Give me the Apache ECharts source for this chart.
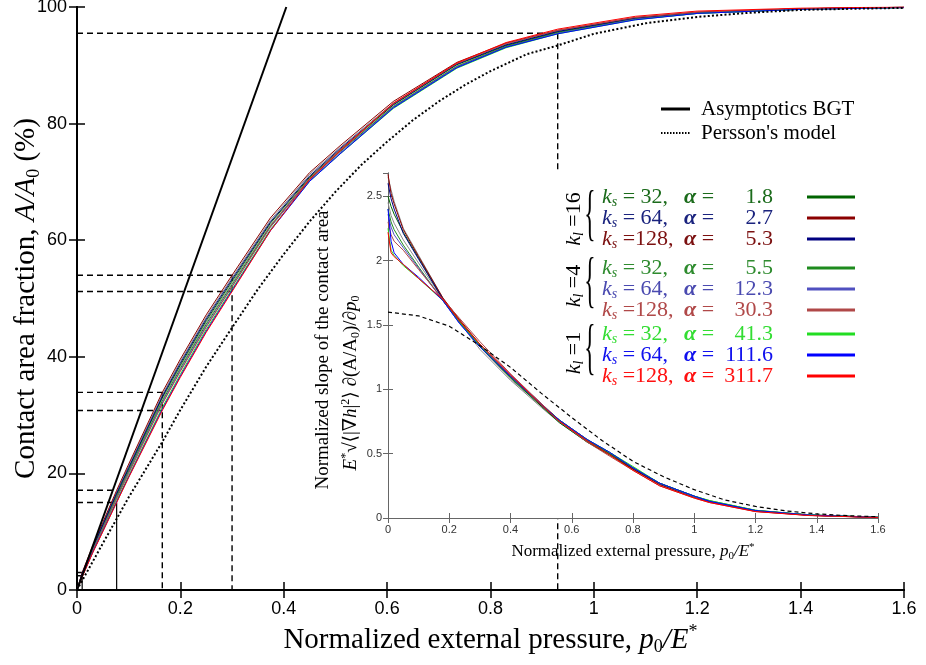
<!DOCTYPE html>
<html><head><meta charset="utf-8">
<script src="https://cdn.jsdelivr.net/npm/echarts/dist/echarts.min.js"></script>
<style>html,body{margin:0;padding:0;background:#fff}#c{width:926px;height:665px}</style>
</head><body><div id="c"></div>
<script>
// ---------- main plot data (x = p0/E*, y = A/A0 in %) ----------
const mainX = [0, 0.01, 0.03, 0.05, 0.0767, 0.1, 0.165, 0.2, 0.25, 0.3, 0.374, 0.45, 0.509, 0.612, 0.735, 0.83, 0.93, 1.08, 1.2, 1.4, 1.6];
const main_kl16_ks32  = [0,2.7,7.1,11.1,16.4,20.8,33.0,38.6,46.2,53.0,62.9,70.8,75.5,83.2,90.1,93.4,95.7,98.0,99.0,99.7,99.95];
const main_kl16_ks64  = [0,3.0,7.5,11.6,17.1,21.6,33.9,39.6,47.2,54.0,63.8,71.6,76.2,83.8,90.5,93.8,96.0,98.2,99.1,99.7,99.95];
const main_kl16_ks128 = [0,2.8,7.2,11.2,16.6,21.0,33.2,38.9,46.5,53.3,63.1,71.0,75.7,83.3,90.2,93.5,95.8,98.1,99.0,99.7,99.95];
const main_kl4_ks32   = [0,2.5,6.8,10.7,16.0,20.4,32.4,38.0,45.6,52.4,62.4,70.5,75.2,82.9,89.8,93.2,95.6,97.9,98.9,99.6,99.9];
const main_kl4_ks64   = [0,2.5,6.7,10.6,15.8,20.2,32.1,37.7,45.3,52.1,62.2,70.3,75.0,82.8,89.7,93.1,95.5,97.9,98.9,99.6,99.9];
const main_kl4_ks128  = [0,2.4,6.6,10.5,15.7,20.0,31.9,37.5,45.1,52.0,62.3,70.6,75.5,83.4,90.3,93.7,96.0,98.2,99.1,99.7,99.95];
const main_kl1_ks32   = [0,2.3,6.4,10.2,15.3,19.6,31.3,37.0,44.7,51.6,61.8,70.1,74.8,82.6,89.5,93.0,95.4,97.8,98.9,99.6,99.9];
const main_kl1_ks64   = [0,2.3,6.4,10.1,15.1,19.4,31.0,36.7,44.4,51.4,61.6,70.1,74.8,82.7,89.6,93.1,95.4,97.8,98.9,99.6,99.9];
const main_kl1_ks128  = [0,2.2,6.3,10.0,15.0,19.3,30.8,36.5,44.2,51.2,61.6,70.4,75.3,83.5,90.4,93.9,96.2,98.4,99.3,99.8,100];
const main_gray1      = [0,2.9,7.3,11.4,16.8,21.3,33.5,39.2,46.8,53.6,63.4,71.3,75.9,83.5,90.3,93.6,95.9,98.1,99.1,99.7,99.95];
const main_gray2      = [0,2.6,6.9,10.9,16.2,20.6,32.7,38.3,45.9,52.7,62.6,70.6,75.3,83.0,89.9,93.3,95.7,98.0,99.0,99.6,99.9];

const bgtX = [0, 0.405];
const bgtY = [0, 100];

const perssonX = [0,0.05,0.0767,0.1,0.165,0.2,0.25,0.3,0.35,0.4,0.45,0.5,0.55,0.6,0.65,0.7,0.75,0.8,0.87,0.93,1.0,1.1,1.2,1.3,1.4,1.5,1.6];
const perssonY = [0,8.0,12.2,15.9,25.4,30.9,38.3,45.0,51.6,57.6,63.2,68.3,72.9,76.9,80.6,83.8,86.6,89.0,91.9,93.4,95.4,97.2,98.3,99.0,99.5,99.7,99.85];

// guide lines: pressure value, upper and lower contact fraction
const guideX  = [0.01, 0.0767, 0.165, 0.3, 0.93];
const guideHi = [3.0, 17.1, 33.9, 54.0, 95.5];
const guideLo = [2.45, 15.0, 30.8, 51.2, 95.5];

// ---------- inset data (normalized slope) ----------
const insetX = [0, 0.01, 0.02, 0.05, 0.1, 0.179, 0.234, 0.3, 0.4, 0.5, 0.56, 0.65, 0.724, 0.8, 0.887, 1.0, 1.05, 1.2, 1.377, 1.6];
const ins_kl16_ks32  = [2.50,2.42,2.36,2.22,2.02,1.70,1.53,1.34,1.09,0.87,0.74,0.59,0.49,0.38,0.27,0.165,0.13,0.058,0.022,0.005];
const ins_kl16_ks64  = [2.67,2.52,2.44,2.24,2.03,1.71,1.54,1.35,1.11,0.89,0.76,0.61,0.50,0.38,0.26,0.16,0.125,0.052,0.020,0.004];
const ins_kl16_ks128 = [2.60,2.48,2.40,2.21,2.01,1.70,1.52,1.33,1.10,0.88,0.75,0.60,0.50,0.39,0.27,0.17,0.13,0.056,0.022,0.005];
const ins_kl4_ks32   = [2.40,2.30,2.24,2.12,1.95,1.69,1.52,1.33,1.09,0.88,0.76,0.60,0.50,0.39,0.27,0.17,0.135,0.060,0.024,0.006];
const ins_kl4_ks64   = [2.36,2.26,2.20,2.10,1.94,1.69,1.51,1.34,1.11,0.89,0.75,0.61,0.51,0.39,0.27,0.165,0.13,0.057,0.023,0.005];
const ins_kl4_ks128  = [2.30,2.20,2.15,2.08,1.93,1.70,1.55,1.37,1.12,0.89,0.75,0.59,0.48,0.37,0.25,0.155,0.12,0.050,0.020,0.004];
const ins_kl1_ks32   = [2.25,2.08,2.04,1.96,1.86,1.69,1.52,1.34,1.10,0.88,0.76,0.61,0.51,0.40,0.27,0.17,0.135,0.060,0.024,0.006];
const ins_kl1_ks64   = [2.40,2.15,2.06,1.97,1.87,1.69,1.51,1.33,1.10,0.88,0.76,0.61,0.51,0.39,0.27,0.17,0.13,0.058,0.023,0.005];
const ins_kl1_ks128  = [2.22,2.06,2.03,1.97,1.86,1.70,1.53,1.35,1.11,0.88,0.75,0.60,0.49,0.37,0.25,0.155,0.12,0.050,0.019,0.004];
const ins_gray1      = [2.65,2.55,2.46,2.25,2.04,1.71,1.52,1.31,1.07,0.86,0.74,0.59,0.49,0.38,0.26,0.16,0.125,0.055,0.021,0.005];
const ins_gray2      = [2.45,2.35,2.29,2.16,1.98,1.70,1.53,1.33,1.08,0.87,0.75,0.60,0.50,0.38,0.26,0.16,0.128,0.056,0.022,0.005];

const insPerssonX = [0,0.1,0.2,0.3,0.4,0.5,0.6,0.7,0.8,0.9,1.0,1.1,1.2,1.3,1.4,1.5,1.6];
const insPerssonY = [1.60,1.57,1.49,1.34,1.17,0.97,0.78,0.60,0.44,0.32,0.22,0.14,0.09,0.055,0.032,0.018,0.01];

// legend content
const klValues = ['16', '4', '1'];
const ksValues = ['32', '64', '128'];
const alphaValues = [['1.8','2.7','5.3'], ['5.5','12.3','30.3'], ['41.3','111.6','311.7']];

// ---------- styling ----------
const lineColors = [['#006400','#8b0000','#000080'], ['#1e8b1e','#5050c0','#b04848'], ['#22dd22','#0000ff','#ff0000']];
const textColors = [['#1b6b1b','#1a237e','#7b1010'], ['#2e8b2e','#4a4ab0','#b04848'], ['#33dd33','#1010ee','#ff1010']];
const mainSets = [[main_kl16_ks32, main_kl16_ks64, main_kl16_ks128], [main_kl4_ks32, main_kl4_ks64, main_kl4_ks128], [main_kl1_ks32, main_kl1_ks64, main_kl1_ks128]];
const insSets = [[ins_kl16_ks32, ins_kl16_ks64, ins_kl16_ks128], [ins_kl4_ks32, ins_kl4_ks64, ins_kl4_ks128], [ins_kl1_ks32, ins_kl1_ks64, ins_kl1_ks128]];

const pairs = (xs, ys) => xs.map((x, i) => [x, ys[i]]);
const SERIF = "'Liberation Serif','DejaVu Serif',serif";
const SANS = "'Liberation Sans',Arial,sans-serif";

const series = [];
[main_gray1, main_gray2].forEach(d => series.push({type:'line', xAxisIndex:0, yAxisIndex:0, data:pairs(mainX,d), symbol:'none', z:2, lineStyle:{color:'#8a8a8a', width:1}}));
[ins_gray1, ins_gray2].forEach(d => series.push({type:'line', xAxisIndex:2, yAxisIndex:2, data:pairs(insetX,d), symbol:'none', z:12, lineStyle:{color:'#8a8a8a', width:1}}));
for (let g = 0; g < 3; g++) for (let r = 0; r < 3; r++) {
  series.push({type:'line', xAxisIndex:0, yAxisIndex:0, data:pairs(mainX, mainSets[g][r]), symbol:'none', z:3, lineStyle:{color:lineColors[g][r], width:1}});
  series.push({type:'line', xAxisIndex:2, yAxisIndex:2, data:pairs(insetX, insSets[g][r]), symbol:'none', z:13, lineStyle:{color:lineColors[g][r], width:1}});
}
series.push({type:'line', xAxisIndex:0, yAxisIndex:0, data:pairs(bgtX,bgtY), symbol:'none', z:4, lineStyle:{color:'#000', width:2}});
series.push({type:'line', xAxisIndex:0, yAxisIndex:0, data:pairs(perssonX,perssonY), symbol:'none', z:4, lineStyle:{color:'#000', width:2, type:[2,2.2]}});
series.push({type:'line', xAxisIndex:2, yAxisIndex:2, data:pairs(insPerssonX,insPerssonY), symbol:'none', z:14, lineStyle:{color:'#000', width:1.2, type:[4,3]}});
guideX.forEach((gx, i) => {
  const dashed = {color:'#000', width:1.4, type:[6,4]};
  series.push({type:'line', xAxisIndex:0, yAxisIndex:0, data:[[0,guideHi[i]],[gx,guideHi[i]]], symbol:'none', z:1, lineStyle:dashed});
  if (guideLo[i] !== guideHi[i]) series.push({type:'line', xAxisIndex:0, yAxisIndex:0, data:[[0,guideLo[i]],[gx,guideLo[i]]], symbol:'none', z:1, lineStyle:dashed});
  const solidV = i < 2;
  series.push({type:'line', xAxisIndex:0, yAxisIndex:0, data:[[gx, solidV ? guideLo[i] : guideHi[i]],[gx,0]], symbol:'none', z:1,
    lineStyle: solidV ? {color:'#000', width:1.2} : dashed});
});

const richBase = (fs) => ({
  i:{fontFamily:SERIF, fontSize:fs, fontStyle:'italic', color:'#000'},
  subn:{fontFamily:SERIF, fontSize:Math.round(fs*0.62), color:'#000', padding:[Math.round(fs*0.5),0,0,0]},
  sup:{fontFamily:SERIF, fontSize:Math.round(fs*0.62), color:'#000', padding:[0,0,Math.round(fs*0.55),0]}
});

const mainAxisLine = {lineStyle:{color:'#000', width:2}};
const mainTick = {inside:true, length:8, lineStyle:{color:'#000', width:1.5}};
const insAxisLine = {lineStyle:{color:'#666', width:1}};
const insTick = {inside:true, length:5, lineStyle:{color:'#666', width:1}};
const insLabel = {fontSize:11, fontFamily:SANS, color:'#333', margin:6};

const xAxis = [
  {gridIndex:0, type:'value', min:0, max:1.6, interval:0.2, position:'bottom', axisLine:mainAxisLine, axisTick:mainTick, splitLine:{show:false},
   axisLabel:{fontSize:18, fontFamily:SANS, color:'#000', margin:10},
   name:'Normalized external pressure, {i|p}{subn|0}{i|/E}{sup|*}', nameLocation:'middle', nameGap:33, nameMoveOverlap:false,
   nameTextStyle:{fontFamily:SERIF, fontSize:29, color:'#000', rich:richBase(29)}},
  {gridIndex:0, type:'value', min:0, max:1.6, interval:0.2, position:'top', axisLine:mainAxisLine, axisTick:mainTick, axisLabel:{show:false}, splitLine:{show:false}},
  {gridIndex:1, type:'value', min:0, max:1.6, interval:0.2, position:'bottom', z:11, axisLine:insAxisLine, axisTick:insTick, splitLine:{show:false},
   axisLabel:insLabel,
   name:'Normalized external pressure, {i|p}{subn|0}{i|/E}{sup|*}', nameLocation:'middle', nameGap:24, nameMoveOverlap:false,
   nameTextStyle:{fontFamily:SERIF, fontSize:17, color:'#000', rich:richBase(17)}},
  {gridIndex:1, type:'value', min:0, max:1.6, interval:0.2, position:'top', z:11, axisLine:insAxisLine, axisTick:insTick, axisLabel:{show:false}, splitLine:{show:false}}
];
const yAxis = [
  {gridIndex:0, type:'value', min:0, max:100, interval:20, position:'left', axisLine:mainAxisLine, axisTick:mainTick, splitLine:{show:false},
   axisLabel:{fontSize:18, fontFamily:SANS, color:'#000', margin:10},
   name:'Contact area fraction, {i|A/A}{subn|0} (%)', nameLocation:'middle', nameGap:34, nameMoveOverlap:false,
   nameTextStyle:{fontFamily:SERIF, fontSize:29, color:'#000', rich:richBase(29)}},
  {gridIndex:0, type:'value', min:0, max:100, interval:20, position:'right', axisLine:mainAxisLine, axisTick:mainTick, axisLabel:{show:false}, splitLine:{show:false}},
  {gridIndex:1, type:'value', min:0, max:2.68, interval:0.5, position:'left', z:11, axisLine:insAxisLine, axisTick:insTick, splitLine:{show:false},
   axisLabel:Object.assign({showMaxLabel:false}, insLabel)},
  {gridIndex:1, type:'value', min:0, max:2.68, interval:0.5, position:'right', z:11, axisLine:insAxisLine, axisTick:insTick, axisLabel:{show:false}, splitLine:{show:false}}
];

const graphic = [];
const Z = 100;
graphic.push({type:'line', z:Z, shape:{x1:661, y1:109, x2:690, y2:109}, style:{stroke:'#000', lineWidth:3}});
graphic.push({type:'line', z:Z, shape:{x1:661, y1:133, x2:690, y2:133}, style:{stroke:'#000', lineWidth:2, lineDash:[1.5,1.5]}});
graphic.push({type:'text', z:Z, x:701, y:109, style:{text:'Asymptotics BGT', font:"21px "+SERIF, fill:'#000', textVerticalAlign:'middle'}});
graphic.push({type:'text', z:Z, x:701, y:133, style:{text:"Persson's model", font:"21px "+SERIF, fill:'#000', textVerticalAlign:'middle'}});

const groupTop = [197, 268, 334];
const rowStep = 21;
const klCenterY = [219, 286, 353];
for (let g = 0; g < 3; g++) {
  for (let r = 0; r < 3; r++) {
    const y = groupTop[g] + r*rowStep;
    const col = textColors[g][r];
    const ksTxt = ksValues[r] === '128' ? ' =128,' : ' = ' + ksValues[r] + ',';
    graphic.push({type:'text', z:Z, x:602, y:y, style:{
      text:'{k|k}{s|s}{n|' + ksTxt + '}', textVerticalAlign:'middle', fill:col,
      rich:{k:{fontFamily:SERIF, fontSize:22, fontStyle:'italic', fill:col, color:col},
            s:{fontFamily:SERIF, fontSize:14, fontStyle:'italic', fill:col, color:col, padding:[10,0,0,0]},
            n:{fontFamily:SERIF, fontSize:22, fill:col, color:col}}}});
    graphic.push({type:'text', z:Z, x:684, y:y, style:{text:'{a|α}{n| =}', fill:col, textVerticalAlign:'middle',
      rich:{a:{fontFamily:SERIF, fontSize:22, fontStyle:'italic', fontWeight:'bold', fill:col, color:col}, n:{fontFamily:SERIF, fontSize:22, fill:col, color:col}}}});
    graphic.push({type:'text', z:Z, x:773, y:y, style:{text:alphaValues[g][r], font:"22px "+SERIF, fill:col, textAlign:'right', textVerticalAlign:'middle'}});
    graphic.push({type:'line', z:Z, shape:{x1:807, y1:y, x2:855, y2:y}, style:{stroke:lineColors[g][r], lineWidth:3}});
  }
  graphic.push({type:'text', z:Z, x:590, y:klCenterY[g]-2, scaleX:0.38, style:{text:'{', font:"62px "+SERIF, fill:'#000', textAlign:'center', textVerticalAlign:'middle'}});
  graphic.push({type:'text', z:Z, x:574, y:klCenterY[g], rotation:Math.PI/2, style:{
    text:'{k|k}{s|l}{n| =' + klValues[g] + '}', textAlign:'center', textVerticalAlign:'middle', fill:'#000',
    rich:{k:{fontFamily:SERIF, fontSize:22, fontStyle:'italic'}, s:{fontFamily:SERIF, fontSize:14, fontStyle:'italic', padding:[10,0,0,0]}, n:{fontFamily:SERIF, fontSize:22}}}});
}
graphic.push({type:'text', z:Z, x:323, y:350, rotation:Math.PI/2, style:{text:'Normalized slope of the contact area', font:"19px "+SERIF, fill:'#000', textAlign:'center', textVerticalAlign:'middle'}});
graphic.push({type:'text', z:Z, x:351, y:383, rotation:Math.PI/2, style:{
  text:'{i|E}{sup|*}{n|√⟨|∇}{i|h}{n||}{sup|2}{n|⟩ ∂(A/A}{sub|0}{n|)/∂}{i|p}{sub|0}', textAlign:'center', textVerticalAlign:'middle', fill:'#000',
  rich:{i:{fontFamily:SERIF, fontSize:19, fontStyle:'italic'}, n:{fontFamily:SERIF, fontSize:19},
        sup:{fontFamily:SERIF, fontSize:12, padding:[0,0,10,0]}, sub:{fontFamily:SERIF, fontSize:12, padding:[9,0,0,0]}}}});

const chart = echarts.init(document.getElementById('c'), null, {renderer:'canvas'});
chart.setOption({
  animation:false,
  backgroundColor:'#fff',
  grid:[
    {left:77, right:22, top:7, bottom:75, show:false, outerBoundsMode:'none', containLabel:false},
    {left:388, right:48, top:173, bottom:147, show:true, backgroundColor:'#fff', borderWidth:0, z:10, outerBoundsMode:'none', containLabel:false}
  ],
  xAxis, yAxis, series, graphic
});
</script>
</body></html>
